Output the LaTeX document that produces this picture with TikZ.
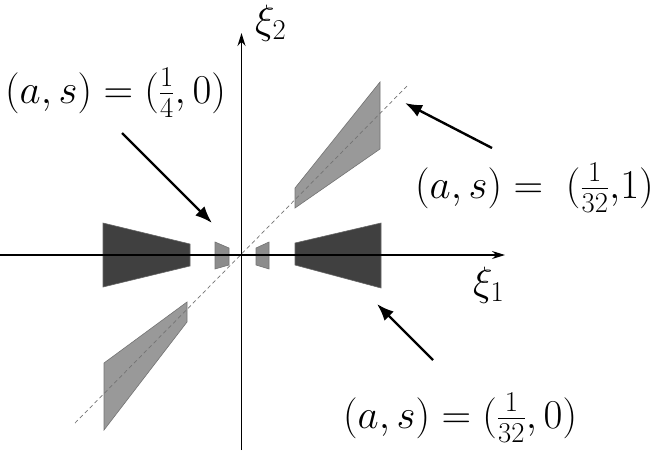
\RequirePackage{fix-cm}
\documentclass[tikz,border=0pt]{standalone}
\usetikzlibrary{arrows.meta}
\begin{document}
\begin{tikzpicture}[x=1pt,y=-1pt,
  lbl/.style={inner sep=0pt,anchor=base west,font=\fontsize{41}{49}\selectfont},
  axis/.style={line width=1.4pt,-{Stealth[length=13pt,width=8pt]}},
  pointer/.style={line width=2.4pt,-{Latex[length=17pt,width=13pt]}},
  darkpart/.style={fill=black!75,draw=black!60,line width=0.6pt},
  lightpart/.style={fill=black!40,draw=black!55,line width=0.6pt},
  smallpart/.style={fill=black!45,draw=black!55,line width=0.6pt},
  diag/.style={draw=black!55,line width=0.7pt,dash pattern=on 4pt off 3pt}]
\useasboundingbox (0,0) rectangle (660,450);
% parallelograms (light)
\draw[lightpart] (295,188) -- (380,82) -- (380,149) -- (295,208) -- cycle;
\draw[lightpart] (187,302) -- (104,363) -- (104,430) -- (187,322) -- cycle;
% dark trapezoids
\draw[darkpart] (103,223) -- (190,244) -- (190,266) -- (103,287) -- cycle;
\draw[darkpart] (295,243) -- (381,223) -- (381,288) -- (295,265) -- cycle;
% small trapezoids
\draw[smallpart] (215,242) -- (229,248) -- (229,265) -- (215,269) -- cycle;
\draw[smallpart] (256,248) -- (269,242) -- (269,269) -- (256,265) -- cycle;
% diagonal
\coordinate (d1) at (75,423);
\coordinate (d2) at (408,85);
\draw[diag] (d1) -- (d2);
% axes
\coordinate (xs) at (0,255);
\coordinate (xe) at (505,255);
\coordinate (ys) at (241.5,450);
\coordinate (ye) at (241.5,33);
\draw[axis] (xs) -- (xe);
\draw[axis] (ys) -- (ye);
\node[lbl] (xi1) at (473,295) {$\xi_1$};
\node[lbl] (xi2) at (255,33) {$\xi_2$};
% labels
\node[lbl] (L1) at (5,103) {$(a,s) = (\frac{1}{4},0)$};
\node[lbl] (L2) at (415,198) {$(a,s) = \;(\frac{1}{32}{,}1)$};
\node[lbl] (L3) at (343,428) {$(a,s) = (\frac{1}{32},0)$};
% pointers
\coordinate (a1s) at (122,133);
\coordinate (a1e) at (212,223);
\coordinate (a2s) at (492,148);
\coordinate (a2e) at (405,103);
\coordinate (a3s) at (433,360);
\coordinate (a3e) at (377,304);
\draw[pointer] (a1s) -- (a1e);
\draw[pointer] (a2s) -- (a2e);
\draw[pointer] (a3s) -- (a3e);
\end{tikzpicture}
\end{document}
